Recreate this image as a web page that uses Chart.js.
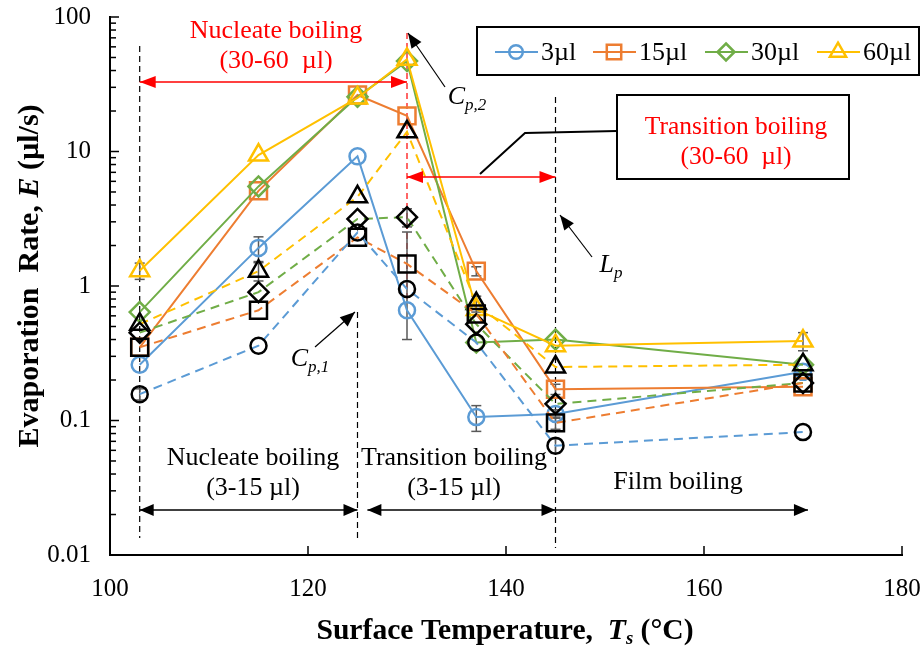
<!DOCTYPE html>
<html><head><meta charset="utf-8">
<script src="https://cdn.jsdelivr.net/npm/chart.js@4.4.1/dist/chart.umd.min.js"></script>
<style>html,body{margin:0;padding:0;background:#fff;overflow:hidden}canvas{display:block}</style>
</head><body>
<canvas id="c" width="922" height="649"></canvas>
<script>
// ---------- data ----------
const temps = [103, 115, 125, 130, 137, 145, 170];
const seriesLabels = ['3µl', '15µl', '30µl', '60µl'];
// solid lines, coloured markers
const rate3  = [0.26, 1.92, 9.2, 0.66, 0.106, 0.112, 0.23];
const rate15 = [0.35, 5.1, 26.3, 18.4, 1.29, 0.171, 0.178];
const rate30 = [0.64, 5.5, 25.5, 47, 0.38, 0.40, 0.26];
const rate60 = [1.3, 9.4, 25, 48.5, 0.67, 0.36, 0.39];
// dashed lines, black markers
const rate3b  = [0.157, 0.36, 2.5, 0.95, 0.38, 0.065, 0.082];
const rate15b = [0.35, 0.66, 2.3, 1.46, 0.62, 0.096, 0.19];
const rate30b = [0.45, 0.90, 3.15, 3.25, 0.52, 0.133, 0.19];
const rate60b = [0.52, 1.29, 4.6, 14, 0.74, 0.25, 0.26];
// error bar half-widths
const err3   = [0, 0.4, 0, 0, 0.023, 0.008, 0];
const err15  = [0, 0, 0, 0, 0.1, 0.015, 0];
const err30  = [0, 0, 0, 0, 0, 0, 0];
const err60  = [0.18, 0, 0, 0, 0, 0, 0.06];
const err3b  = [0.015, 0, 0, 0, 0, 0.008, 0];
const err15b = [0, 0, 0, 1.06, 0, 0.01, 0];
const err30b = [0, 0, 0, 0.5, 0, 0, 0];
const err60b = [0, 0.2, 0, 0, 0.1, 0, 0];
const xTicks = [100, 120, 140, 160, 180];
const yTicks = [0.01, 0.1, 1, 10, 100];

// ---------- styles ----------
const SERIF = '"Liberation Serif", "Times New Roman", serif';
const COL = ['#5B9BD5', '#ED7D31', '#70AD47', '#FFC000'];
const STY = ['circle', 'rect', 'rectRot', 'triangle'];
const RAD = [8, 12, 10, 11];

function mk(label, vals, err, idx, dashed) {
  return {
    label, err, legend: !dashed, styleIdx: idx,
    data: temps.map((t, i) => ({x: t, y: vals[i]})),
    borderColor: COL[idx], borderWidth: 2, borderDash: dashed ? [9, 6] : [],
    pointStyle: STY[idx], pointRadius: RAD[idx], pointHoverRadius: RAD[idx],
    pointBorderColor: dashed ? '#000' : COL[idx],
    pointBackgroundColor: 'rgba(0,0,0,0)', pointBorderWidth: 2.5,
    tension: 0, fill: false
  };
}
const datasets = [
  mk(seriesLabels[0] + ' b', rate3b, err3b, 0, true),
  mk(seriesLabels[1] + ' b', rate15b, err15b, 1, true),
  mk(seriesLabels[2] + ' b', rate30b, err30b, 2, true),
  mk(seriesLabels[3] + ' b', rate60b, err60b, 3, true),
  mk(seriesLabels[3], rate60, err60, 3, false),
  mk(seriesLabels[2], rate30, err30, 2, false),
  mk(seriesLabels[1], rate15, err15, 1, false),
  mk(seriesLabels[0], rate3, err3, 0, false)
];

// ---------- helpers ----------
function line(ctx, x1, y1, x2, y2) { ctx.beginPath(); ctx.moveTo(x1, y1); ctx.lineTo(x2, y2); ctx.stroke(); }
function head(ctx, x1, y1, x2, y2, len, hw) {
  const a = Math.atan2(y2 - y1, x2 - x1), c = Math.cos(a), s = Math.sin(a);
  ctx.beginPath(); ctx.moveTo(x2, y2);
  ctx.lineTo(x2 - len * c + hw * s, y2 - len * s - hw * c);
  ctx.lineTo(x2 - len * c - hw * s, y2 - len * s + hw * c);
  ctx.closePath(); ctx.fill();
}
function arrow(ctx, x1, y1, x2, y2, color, w, h1, h2, len, hw) {
  ctx.save(); ctx.strokeStyle = color; ctx.fillStyle = color; ctx.lineWidth = w; ctx.setLineDash([]);
  line(ctx, x1, y1, x2, y2);
  if (h1) head(ctx, x2, y2, x1, y1, len, hw);
  if (h2) head(ctx, x1, y1, x2, y2, len, hw);
  ctx.restore();
}
// draw runs of differently styled text, centred at cx, baseline by, with horizontal stretch sx
function runs(ctx, parts, cx, by, color, sx) {
  sx = sx || 1;
  ctx.save(); ctx.fillStyle = color; ctx.textAlign = 'left'; ctx.textBaseline = 'alphabetic';
  let w = 0; parts.forEach(p => { ctx.font = p[1]; w += ctx.measureText(p[0]).width; });
  ctx.translate(cx, by); ctx.scale(sx, 1);
  let x = -w / 2;
  parts.forEach(p => { ctx.font = p[1]; ctx.fillText(p[0], x, p[2] || 0); x += ctx.measureText(p[0]).width; });
  ctx.restore();
}
function marker(ctx, style, x, y, r, color) {
  ctx.save(); ctx.strokeStyle = color; ctx.lineWidth = 2.5; ctx.setLineDash([]); ctx.beginPath();
  if (style === 'circle') ctx.arc(x, y, r, 0, 2 * Math.PI);
  else if (style === 'rect') { const s = r * Math.SQRT1_2; ctx.rect(x - s, y - s, 2 * s, 2 * s); }
  else if (style === 'rectRot') { ctx.moveTo(x, y - r); ctx.lineTo(x + r, y); ctx.lineTo(x, y + r); ctx.lineTo(x - r, y); ctx.closePath(); }
  else { for (let k = 0; k < 3; k++) { const a = -Math.PI / 2 + k * 2 * Math.PI / 3; const px = x + r * Math.cos(a), py = y + r * Math.sin(a); k ? ctx.lineTo(px, py) : ctx.moveTo(px, py); } ctx.closePath(); }
  ctx.stroke(); ctx.restore();
}

// ---------- plugins ----------
const behind = {
  id: 'behind',
  beforeDatasetsDraw(chart) {
    const {ctx, scales: {x, y}} = chart;
    const X = v => x.getPixelForValue(v);
    ctx.save();
    ctx.lineWidth = 1.2; ctx.setLineDash([6, 4]);
    ctx.strokeStyle = '#000';
    line(ctx, X(103), 46, X(103), 538);
    line(ctx, X(125), 312, X(125), 540);
    line(ctx, X(145), 97, X(145), 548);
    ctx.strokeStyle = '#FF0000';
    line(ctx, X(130), 33, X(130), 300);
    ctx.setLineDash([]);
    ctx.strokeStyle = '#595959'; ctx.lineWidth = 1.5;
    chart.data.datasets.forEach(ds => {
      ds.err.forEach((e, i) => {
        if (!e) return;
        const v = ds.data[i].y, px = X(ds.data[i].x);
        const yt = y.getPixelForValue(v + e), yb = y.getPixelForValue(Math.max(v - e, 0.011));
        line(ctx, px, yt, px, yb); line(ctx, px - 5, yt, px + 5, yt); line(ctx, px - 5, yb, px + 5, yb);
      });
    });
    ctx.restore();
  }
};

const front = {
  id: 'front',
  afterDraw(chart) {
    const {ctx, chartArea: ca, scales: {x, y}} = chart;
    const X = v => x.getPixelForValue(v);
    ctx.save();
    ctx.strokeStyle = '#000'; ctx.lineWidth = 1.5;
    for (let d = -2; d <= 1; d++) for (let k = 1; k <= 9; k++) {
      const py = y.getPixelForValue(k * Math.pow(10, d));
      line(ctx, ca.left, py, ca.left + (k === 1 ? 9 : 6), py);
    }
    line(ctx, ca.left, y.getPixelForValue(100), ca.left + 9, y.getPixelForValue(100));
    xTicks.slice(1).forEach(t => line(ctx, X(t), ca.bottom, X(t), ca.bottom - 9));

    const F = s => s + 'px ' + SERIF;
    const FI = s => 'italic ' + s + 'px ' + SERIF;
    const SX = 1.04;
    arrow(ctx, X(103), 82, X(130), 82, '#FF0000', 1.5, true, true, 16, 6);
    arrow(ctx, X(130), 177, X(145), 177, '#FF0000', 1.5, true, true, 16, 6);
    arrow(ctx, X(103), 510, X(125), 510, '#000', 1.5, true, true, 14, 6);
    arrow(ctx, X(126), 510, X(145), 510, '#000', 1.5, true, true, 14, 6);
    arrow(ctx, X(145), 510, X(170.5), 510, '#000', 1.5, false, true, 14, 6);
    arrow(ctx, 445, 87, 408, 33, '#000', 1.2, false, true, 15, 6);
    arrow(ctx, 592, 257, 560, 215, '#000', 1.2, false, true, 15, 6);
    arrow(ctx, 315, 347, 355, 312, '#000', 1.2, false, true, 15, 6);
    ctx.strokeStyle = '#000'; ctx.lineWidth = 2;
    ctx.beginPath(); ctx.moveTo(480, 174); ctx.lineTo(525, 133); ctx.lineTo(617, 131); ctx.stroke();
    ctx.fillStyle = '#fff'; ctx.fillRect(617, 95, 232, 84);
    ctx.strokeRect(617, 95, 232, 84);
    runs(ctx, [['Transition boiling', F(25)]], 736, 134, '#FF0000', 1.02);
    runs(ctx, [['(30-60  µl)', F(25)]], 736, 164, '#FF0000', 1.02);
    runs(ctx, [['Nucleate boiling', F(25)]], 276, 38, '#FF0000', SX);
    runs(ctx, [['(30-60  µl)', F(25)]], 276, 68, '#FF0000', SX);
    runs(ctx, [['Nucleate boiling', F(25)]], 253, 465, '#000', SX);
    runs(ctx, [['(3-15 µl)', F(25)]], 253, 495, '#000', SX);
    runs(ctx, [['Transition boiling', F(25)]], 454, 465, '#000', SX);
    runs(ctx, [['(3-15 µl)', F(25)]], 454, 495, '#000', SX);
    runs(ctx, [['Film boiling', F(25)]], 678, 489, '#000', SX);
    runs(ctx, [['C', FI(26)], ['p,2', FI(17), 6]], 467, 104, '#000');
    runs(ctx, [['L', FI(26)], ['p', FI(17), 6]], 611, 272, '#000');
    runs(ctx, [['C', FI(26)], ['p,1', FI(17), 6]], 310, 366, '#000');

    ctx.fillStyle = '#fff'; ctx.fillRect(477, 27, 442, 48);
    ctx.strokeStyle = '#000'; ctx.lineWidth = 2; ctx.strokeRect(477, 27, 442, 48);
    const lx = [495, 593, 705, 817];
    chart.data.datasets.filter(d => d.legend).sort((a, b) => a.styleIdx - b.styleIdx).forEach(d => {
      const i = d.styleIdx, x0 = lx[i], cy = 52;
      ctx.strokeStyle = COL[i]; ctx.lineWidth = 2; line(ctx, x0, cy, x0 + 43, cy);
      marker(ctx, STY[i], x0 + 21, cy, RAD[i] * 0.85, COL[i]);
      ctx.save(); ctx.fillStyle = '#000'; ctx.font = F(25); ctx.textAlign = 'left'; ctx.textBaseline = 'alphabetic';
      ctx.translate(x0 + 46, cy + 8); ctx.scale(SX, 1); ctx.fillText(d.label, 0, 0); ctx.restore();
    });

    const B = s => 'bold ' + s + 'px ' + SERIF, BI = s => 'bold italic ' + s + 'px ' + SERIF;
    runs(ctx, [['Surface Temperature,  ', B(28.5)], ['T', BI(28.5)], ['s', BI(18), 5], [' (°C)', B(28.5)]], 505, 639, '#000', SX);
    ctx.translate(30, 276); ctx.rotate(-Math.PI / 2);
    runs(ctx, [['Evaporation  Rate, ', B(30)], ['E', BI(30)], [' (µl/s)', B(30)]], 0, 8, '#000');
    ctx.restore();
  }
};

// ---------- chart ----------
new Chart(document.getElementById('c'), {
  type: 'line',
  data: {datasets},
  options: {
    responsive: false, animation: false,
    layout: {padding: {left: 0, right: 20, top: 17, bottom: 0}},
    plugins: {legend: {display: false}, tooltip: {enabled: false}},
    scales: {
      x: {
        type: 'linear', min: xTicks[0], max: xTicks[xTicks.length - 1],
        afterBuildTicks: s => { s.ticks = xTicks.map(v => ({value: v})); },
        ticks: {font: {family: SERIF, size: 25}, color: '#000', padding: 11, maxRotation: 0, autoSkip: false},
        grid: {display: false}, border: {display: true, color: '#000', width: 2},
        afterFit: s => { s.height = 94; s.paddingLeft = 0; s.paddingRight = 0; }
      },
      y: {
        type: 'logarithmic', min: yTicks[0], max: yTicks[yTicks.length - 1],
        afterBuildTicks: s => { s.ticks = yTicks.map(v => ({value: v})); },
        ticks: {font: {family: SERIF, size: 25}, color: '#000', padding: 11, autoSkip: false,
          callback: v => String(v)},
        grid: {display: false}, border: {display: true, color: '#000', width: 2},
        afterFit: s => { s.width = 110; s.paddingTop = 0; s.paddingBottom = 0; }
      }
    }
  },
  plugins: [behind, front]
});
</script>
</body></html>
